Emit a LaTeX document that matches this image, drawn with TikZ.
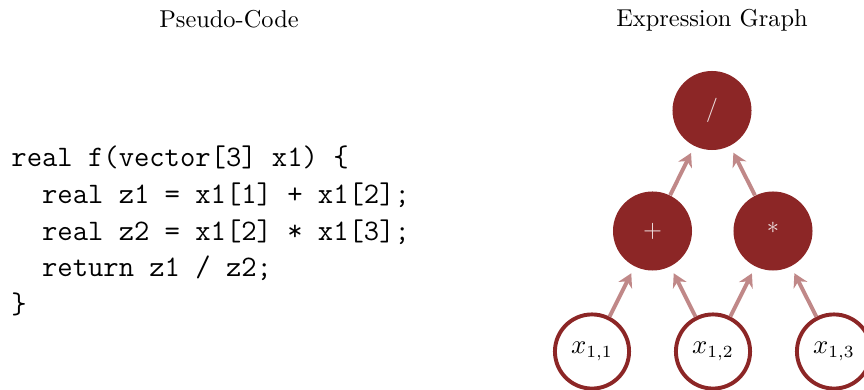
\documentclass[tikz,border=0pt]{standalone}
\definecolor{darkred}{rgb}{0.55, 0.15, 0.15}
\usepackage{tikz}
\usetikzlibrary{
    arrows.meta,
    positioning
}
\usepackage{xcolor}
\usepackage{amsmath}
\tikzstyle{opnode} = [
    circle,
    fill=darkred,
    text=darkred!15,
    minimum size=32.4pt,
    inner sep=0pt,
    font=\normalsize
]
\tikzstyle{varnode} = [
    circle,
    draw=darkred,
    line width=1.6pt,
    fill=white,
    minimum size=30.4pt,
    inner sep=0pt,
    font=\fontsize{10.7}{13}\selectfont
]
\tikzstyle{edge} = [
    -{Stealth[length=5.5pt, width=6.2pt]},
    line width=1.6pt,
    draw=darkred!55,
    shorten >=3pt
]
\tikzstyle{codeline} = [
    anchor=base west,
    inner sep=0pt,
    font=\fontsize{12.2}{15}\selectfont\ttfamily
]
\tikzstyle{title} = [
    anchor=base,
    inner sep=0pt,
    font=\normalsize
]

\begin{document}
\begin{tikzpicture}[x=0.41pt, y=-0.41pt]
        \useasboundingbox (0,0) rectangle (864,390);

        % headings
        \node[title] (pctitle) at (229,28) {Pseudo-Code};
        \node[title] (egtitle) at (712,27) {Expression Graph};

        % program text
        \node[codeline] (code1) at (11,166.5) {real f(vector[3] x1) \{};
        \node[codeline] (code2) at (11,203.3) {\hphantom{xx}real z1 = x1[1] + x1[2];};
        \node[codeline] (code3) at (11,240.1) {\hphantom{xx}real z2 = x1[2] * x1[3];};
        \node[codeline] (code4) at (11,276.9) {\hphantom{xx}return z1 / z2;};
        \node[codeline] (code5) at (11,313.7) {\}};

        % graph
        \node[opnode] (div) at (712,110.5) {/};
        \node[opnode] (plus) at (652.5,231) {+};
        \node[opnode] (times) at (773,231) {*};
        \node[varnode] (x11) at (592,351.5) {$x_{1,1}$};
        \node[varnode] (x12) at (713,351.5) {$x_{1,2}$};
        \node[varnode] (x13) at (834,351.5) {$x_{1,3}$};

        \draw[edge] (plus) -- (div);
        \draw[edge] (times) -- (div);
        \draw[edge] (x11) -- (plus);
        \draw[edge] (x12) -- (plus);
        \draw[edge] (x12) -- (times);
        \draw[edge] (x13) -- (times);
    \end{tikzpicture}
\end{document}
